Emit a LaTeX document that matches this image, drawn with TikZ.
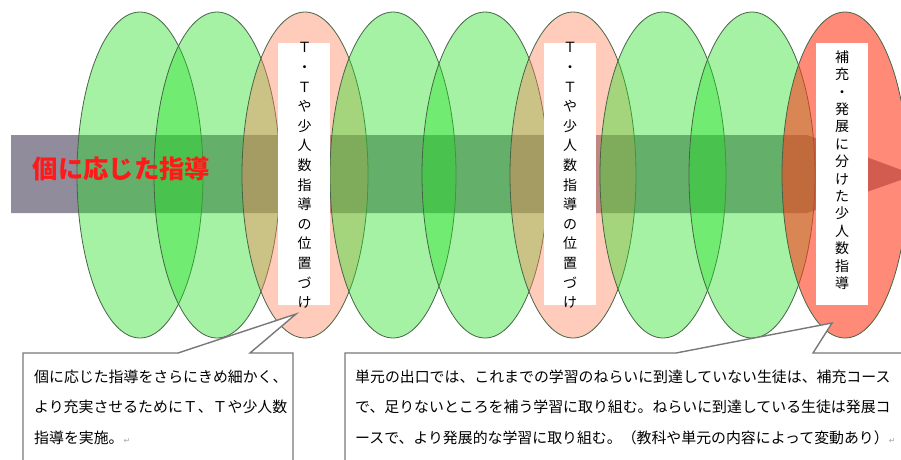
\documentclass[tikz,border=0pt]{standalone}
\usepackage{fontspec}
\newfontfamily\cjk{Noto Sans CJK JP}
\newfontfamily\dejavu{DejaVu Sans}
\usetikzlibrary{shapes.geometric}
\definecolor{grn}{RGB}{40,225,40}
\definecolor{pnk}{RGB}{255,130,90}
\definecolor{rdo}{RGB}{255,60,30}
\definecolor{ovaledge}{RGB}{70,100,70}
\definecolor{bargray}{RGB}{145,140,155}
\definecolor{titlered}{RGB}{255,25,25}
\definecolor{callgray}{RGB}{120,120,120}
\newcommand{\retmark}{{\dejavu\fontsize{8}{8}\selectfont\color{gray!70}↵}}
\begin{document}
\begin{tikzpicture}[x=1pt,y=-1pt,
  oval/.style={ellipse, minimum width=126pt, minimum height=326pt, inner sep=0pt,
    draw=ovaledge, line width=0.8pt},
  greenoval/.style={oval, fill=grn, fill opacity=0.42},
  pinkoval/.style={oval, fill=pnk, fill opacity=0.42},
  redoval/.style={oval, fill=rdo, fill opacity=0.6},
  whitebox/.style={fill=white, minimum width=52pt, minimum height=262pt, inner sep=0pt},
  vtext/.style={align=center, inner sep=0pt, font=\cjk\fontsize{14}{19.6}\selectfont},
  callout/.style={draw=callgray, line width=1.4pt, fill=white, line join=miter},
  calltext/.style={align=left, inner sep=0pt, anchor=north west,
    font=\cjk\fontsize{14.9}{30.6}\selectfont},
  titletext/.style={inner sep=0pt, text=titlered, font=\cjk\bfseries\fontsize{25.3}{26}\selectfont}
  ]
\useasboundingbox (0,0) rectangle (901,459);
\clip (0,0) rectangle (901,459);
% bar arrow
\fill[bargray] (11,135) -- (807,135) -- (915,175) -- (807,213) -- (11,213) -- cycle;
% ellipses
\node[greenoval] (e1) at (140,175) {};
\node[greenoval] (e2) at (217,175) {};
\node[pinkoval]  (e3) at (305,175) {};
\node[greenoval] (e4) at (393,175) {};
\node[greenoval] (e5) at (485,175) {};
\node[pinkoval]  (e6) at (573,175) {};
\node[greenoval] (e7) at (663,175) {};
\node[greenoval] (e8) at (752,175) {};
\node[redoval]   (e9) at (845,175) {};
% white vertical boxes
\node[whitebox] (b1) at (304,174) {};
\node[whitebox] (b2) at (569.5,174) {};
\node[whitebox] (b3) at (841.5,174) {};
\node[vtext] (t1) at (304.5,175.5) {Ｔ\\・\\Ｔ\\や\\少\\人\\数\\指\\導\\の\\位\\置\\づ\\け};
\node[vtext] (t2) at (570,175.5) {Ｔ\\・\\Ｔ\\や\\少\\人\\数\\指\\導\\の\\位\\置\\づ\\け};
\node[vtext, font=\cjk\fontsize{14}{17.4}\selectfont] (t3) at (842,170) {補\\充\\・\\発\\展\\に\\分\\け\\た\\少\\人\\数\\指\\導};
% title
\node[titletext] (title) at (121.5,169) {個に応じた指導};
% callouts
\coordinate (tipA) at (296,314);
\coordinate (tipB) at (832,323);
\draw[callout] (23,475) -- (23,353) -- (178,353) -- (tipA) -- (250,353) -- (293,353) -- (293,475) -- cycle;
\draw[callout] (345,475) -- (345,353) -- (676,353) -- (tipB) -- (813,353) -- (915,353) -- (915,475) -- cycle;
\node[calltext] (c1) at (34,369.5) {個に応じた指導をさらにきめ細かく、\\より充実させるためにＴ、Ｔや少人数\\指導を実施。\retmark};
\node[calltext] (c2) at (355,369.5) {単元の出口では、これまでの学習のねらいに到達していない生徒は、補充コース\\で、足りないところを補う学習に取り組む。ねらいに到達している生徒は発展コ\\ースで、より発展的な学習に取り組む。（教科や単元の内容によって変動あり）\retmark};
\end{tikzpicture}
\end{document}
